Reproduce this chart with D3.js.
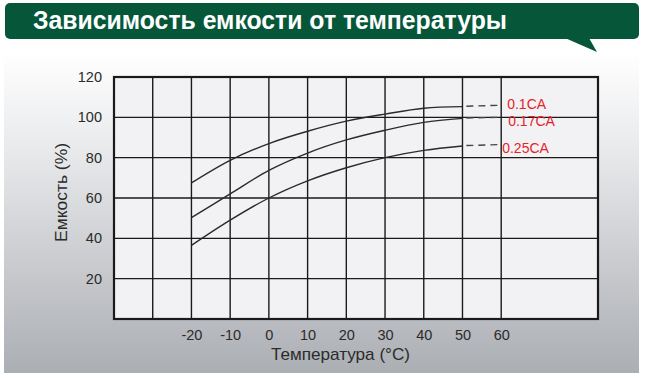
<!DOCTYPE html>
<html><head><meta charset="utf-8">
<script src="https://cdn.jsdelivr.net/npm/d3@7"></script>
<style>html,body{margin:0;padding:0;background:#fff}svg{display:block}</style>
</head><body>
<svg id="c" width="647" height="382"></svg>
<script>
const title = "Зависимость емкости от температуры";
const temps = [-20, -10, 0, 10, 20, 30, 40, 50];
const cap01 = [67.5, 78.7, 87, 93.1, 98.1, 101.6, 104.5, 105.3];
const cap017 = [50.3, 62, 73.7, 82.3, 88.8, 93.6, 97.5, 99.5];
const cap025 = [36.5, 49, 60, 68.5, 75, 80, 83.6, 85.8];
const extTemps = [51, 60];
const ext01 = [105.5, 106];
const ext017 = [99.7, 100];
const ext025 = [86, 86.5];
const seriesNames = ["0.1CA", "0.17CA", "0.25CA"];
const xTickLabels = [-20, -10, 0, 10, 20, 30, 40, 50, 60];
const xGrid = [-30, -20, -10, 0, 10, 20, 30, 40, 50, 60];
const yTickLabels = [20, 40, 60, 80, 100, 120];
const yGrid = [20, 40, 60, 80, 100];

const FONT = "Liberation Sans, Arial, sans-serif";
const svg = d3.select("#c");
const defs = svg.append("defs");
const g = defs.append("linearGradient").attr("id","bg").attr("x1",0).attr("y1",0).attr("x2",0).attr("y2",1);
g.append("stop").attr("offset","0%").attr("stop-color","#ffffff");
g.append("stop").attr("offset","30%").attr("stop-color","#e9eaec");
g.append("stop").attr("offset","100%").attr("stop-color","#abaeb3");

svg.append("rect").attr("x",4).attr("y",52).attr("width",635).attr("height",321).attr("fill","url(#bg)");

svg.append("path").attr("d","M565,38 L597,52 L589,38 Z").attr("fill","#06573a");
svg.append("rect").attr("x",5).attr("y",3).attr("width",634).attr("height",36).attr("rx",5).attr("fill","#06573a");
const tt = svg.append("text").attr("x",33).attr("y",29).attr("fill","#fff")
  .attr("font-family",FONT).attr("font-weight","bold").attr("font-size",25)
  .text(title);
const tl = tt.node().getComputedTextLength();
if (Math.abs(tl-474) > 3) tt.attr("textLength",474).attr("lengthAdjust","spacingAndGlyphs");

const x = d3.scaleLinear().domain([-40, 85]).range([114, 598]);
const y = d3.scaleLinear().domain([0, 120]).range([319, 77]);

svg.append("rect").attr("x",x(-40)).attr("y",y(120)).attr("width",x(85)-x(-40)).attr("height",y(0)-y(120)).attr("fill","#f2f2f4");

const grid = svg.append("g").attr("stroke","#1a1a1a").attr("stroke-width",1.4);
grid.selectAll(".vx").data(xGrid).join("line").attr("x1",d=>x(d)).attr("x2",d=>x(d)).attr("y1",y(0)).attr("y2",y(120));
grid.selectAll(".hy").data(yGrid).join("line").attr("y1",d=>y(d)).attr("y2",d=>y(d)).attr("x1",x(-40)).attr("x2",x(85));
svg.append("rect").attr("x",x(-40)).attr("y",y(120)).attr("width",x(85)-x(-40)).attr("height",y(0)-y(120))
  .attr("fill","none").attr("stroke","#1a1a1a").attr("stroke-width",2.2);

const fmt = d => String(d);
const xAxis = svg.append("g").attr("transform",`translate(0,${y(0)})`)
  .call(d3.axisBottom(x).tickValues(xTickLabels).tickFormat(fmt).tickSize(0).tickPadding(11));
const yAxis = svg.append("g").attr("transform",`translate(${x(-40)},0)`)
  .call(d3.axisLeft(y).tickValues(yTickLabels).tickFormat(fmt).tickSize(0).tickPadding(12));
[xAxis,yAxis].forEach(a=>{
  a.select(".domain").remove();
  a.selectAll("text").attr("font-family",FONT).attr("font-size",14.5).attr("fill","#2b2b2b");
});

svg.append("text").attr("x",340.5).attr("y",360).attr("text-anchor","middle")
  .attr("font-family",FONT).attr("font-size",17).attr("fill","#2b2b2b")
  .attr("textLength",139).attr("lengthAdjust","spacingAndGlyphs")
  .text("Температура (°C)");
svg.append("text").attr("transform","translate(67,192.5) rotate(-90)").attr("text-anchor","middle")
  .attr("font-family",FONT).attr("font-size",16.5).attr("fill","#2b2b2b")
  .attr("textLength",99).attr("lengthAdjust","spacingAndGlyphs")
  .text("Емкость (%)");

const line = d3.line().x(d=>x(d[0])).y(d=>y(d[1])).curve(d3.curveCatmullRom);
const solid = [cap01, cap017, cap025];
const exts = [ext01, ext017, ext025];
const lab = svg.append("g");
solid.forEach((vals,i)=>{
  svg.append("path").attr("d",line(temps.map((t,j)=>[t,vals[j]]))).attr("fill","none")
    .attr("stroke","#2a2a2a").attr("stroke-width",1.4);
  svg.append("path").attr("d",d3.line().x(d=>x(d[0])).y(d=>y(d[1]))(extTemps.map((t,j)=>[t,exts[i][j]])))
    .attr("fill","none").attr("stroke","#444").attr("stroke-width",1.4).attr("stroke-dasharray","7,5");
});
const labDx = [6, 7, 1];
const labDy = [3.5, 8.5, 8];
seriesNames.forEach((n,i)=>{
  lab.append("text").attr("x",x(60)+labDx[i]).attr("y",y(exts[i][1])+labDy[i]).attr("fill","#e3242b")
    .attr("font-family",FONT).attr("font-size",14).text(n);
});
</script>
</body></html>
